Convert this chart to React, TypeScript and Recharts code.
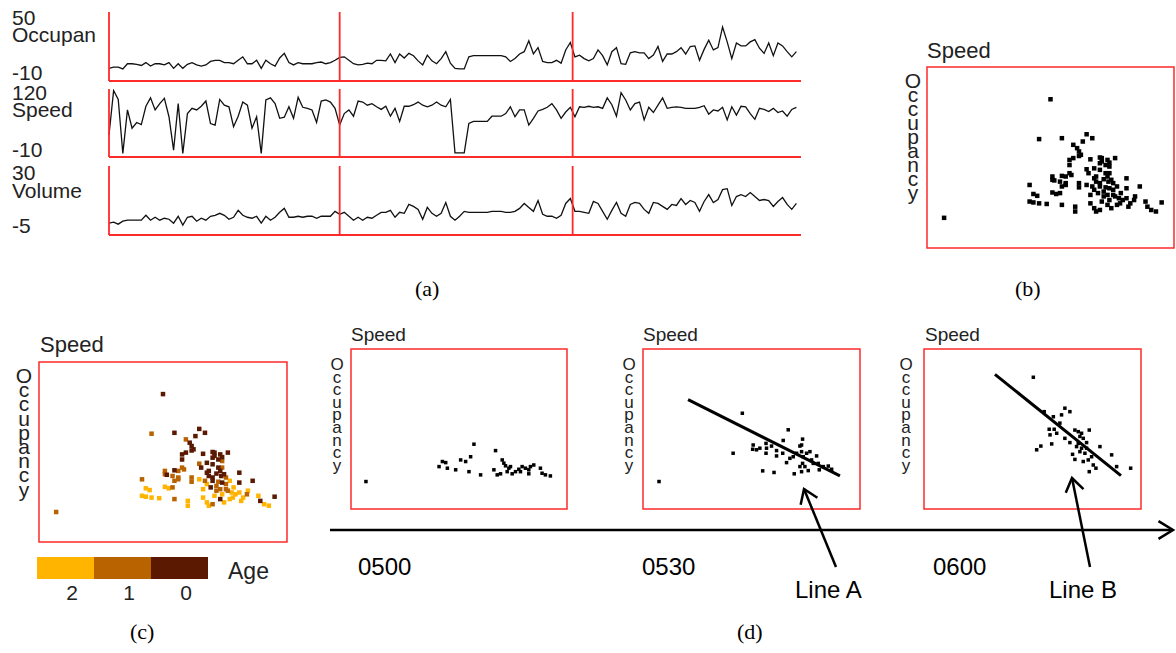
import React from 'react';
import {
  LineChart,
  Line,
  XAxis,
  YAxis,
  ReferenceLine,
  ReferenceArea,
  ScatterChart,
  Scatter,
} from 'recharts';

// (a) time series, one value per minute-ish sample
const occupancy = [
  1, 2, 2, 0.5, 5, 5, 4.5, 3.5, 6, 3, 5, 5, 4, 6, 1, 5, 1, 4.5, 6, 4, 3, 4, 7, 8, 8, 6, 6, 5, 8, 11, 5, 5, 8, 1,
  8, 5, 3, 10, 14, 6, 4, 6, 5, 5, 5, 6, 6.5, 5, 6, 8, 10.5,
  11, 8, 5, 4, 4.5, 5.5, 5, 8, 8, 7.5, 13.5, 6, 13.5, 10, 14, 12, 7.5, 4, 12.5, 7.5, 5, 9.5, 15.5, 5.5, 1, 0.5,
  0.5, 11, 12, 12, 12, 12, 12, 12, 12, 11, 7, 9.5, 13.5, 15.5, 25, 13.5, 19, 7, 6, 6, 8, 5.5, 17, 23.5,
  11, 12.5, 9.5, 7.5, 9.5, 17, 12, 4, 15.5, 19, 5, 4.5, 14.5, 15.5, 14.5, 14.5, 9.5, 12.5, 20, 7, 13.5, 13.5,
  15.5, 19, 13.5, 20, 20.5, 8, 17.5, 25.5, 17, 19, 37, 24, 9.5, 23, 20.5, 20.5, 24, 26, 18.5, 14, 23, 12, 23,
  20.5, 15.5, 11, 15.5,
];
const speed = [
  32, 117, 100, -3, 80, 45, 56, 52, 87, 103, 80, 92, 102, 67, 3, 92, -3, 73, 83, 80, 87, 97, 54, 51, 100, 89, 86,
  48, 68, 95, 89, 45, 67, -3, 99, 103, 92, 64, 66, 86, 64, 104, 85, 83, 80, 56, 97, 99, 95, 83, 51,
  73, 80, 68, 97, 95, 89, 92, 86, 81, 87, 68, 83, 58, 87, 87, 90, 95, 89, 86, 89, 95, 89, 86, 100, -2, -2, -2,
  54, 58, 58, 58, 58, 68, 68, 68, 73, 86, 67, 80, 80, 51, 64, 78, 81, 85, 92, 80, 64, 76, 85,
  67, 86, 85, 87, 85, 86, 83, 103, 90, 68, 113, 99, 80, 92, 95, 61, 85, 75, 89, 103, 83, 85, 86, 85, 83, 83, 83,
  85, 88, 72, 80, 78, 85, 61, 86, 70, 87, 86, 73, 62, 83, 81, 77, 83, 75, 78, 68, 81, 85,
];
const volume = [
  1, 1.5, 0.5, 2, 2.5, 2.5, 2.5, 2.5, 5, 2.5, 4, 2.5, 3.5, 3, 1, 4.5, 0, 4, 4.5, 2, 3.5, 2.5, 4.5, 5, 6, 5, 3, 4,
  7.5, 5, 4, 3.5, 4.5, 1, 4.5, 2.5, 4, 6.5, 8.5, 4, 4, 4.5, 4, 4.5, 4.5, 3.5, 4.5, 4.5, 4.5, 7, 5.5,
  6.5, 4.5, 2.5, 4, 2.5, 4, 3.5, 5, 6.5, 6.5, 7.5, 4, 6.5, 6, 10.5, 9.5, 8, 3, 9, 6, 4.5, 6, 11.5, 4.5, 2.5, 4.5,
  7, 6.5, 6.5, 6.5, 6.5, 6.5, 7, 7, 7, 6.5, 6.5, 7, 8.5, 11, 9, 7, 12.5, 5.5, 4.5, 4.5, 3.5, 5, 11, 13.5,
  7, 7, 6.5, 6, 12, 11, 7, 3, 7.5, 11.5, 6, 4.5, 10.5, 11.5, 11, 8, 6, 11.5, 11, 9.5, 8, 10.5, 10, 13.5, 10.5,
  12.5, 11.5, 7, 12, 15.5, 11.5, 13, 18, 18.5, 10, 14.5, 15.5, 14.5, 16.5, 14.5, 12.5, 13, 12.5, 9.5, 12, 14,
  10.5, 8, 11,
];
const dividers = [50, 100.5];

// (b) and (c): speed vs occupancy, age of each sample for (c)
const scSpeed = [
  -1, 55, 49, 61, 74, 77, 72, 67, 69, 70, 71, 70, 67, 65, 65, 76, 81, 82, 85, 89, 81, 84, 86, 81, 75, 74, 78, 65,
  66, 63, 61, 56, 56, 57, 60, 63, 61, 63, 44, 46, 48, 44, 46, 49, 53, 56, 58, 60, 61, 68, 68, 70, 70, 74, 76, 76,
  78, 79, 81, 78, 79, 81, 83, 85, 86, 87, 88, 81, 84, 86, 88, 90, 95, 95, 92, 91, 89, 86, 85, 87, 83, 82, 85, 93,
  95, 97, 99, 99.5, 102, 105, 106, 108, 110.5, 113.5, 91.6, 90, 96, 80, 83, 88, 85.5, 84, 82, 86, 79, 77, 78,
];
const scOcc = [
  0, 39.3, 26.1, 26.4, 27.7, 26.4, 25.3, 24.2, 23.1, 22, 20.9, 20.5, 19.8, 19.2, 17.5, 19.4, 20, 19.8, 19.2, 19.8,
  18.1, 17.5, 17, 15.9, 14.8, 16.1, 16.4, 14.8, 14.2, 13.7, 13.9, 13.7, 12.6, 12.4, 12, 11.5, 10.4, 10.9, 10.9,
  7.9, 7.3, 5.4, 5.1, 4.8, 4.6, 8.4, 7.9, 8.2, 4.3, 3.7, 2.1, 10.1, 11.5, 10.9, 7.6, 4.8, 3.2, 2.1, 2.6, 13.1, 12,
  11.5, 12.8, 13.7, 14.8, 12.6, 11.5, 10.4, 10.1, 9.8, 9.3, 10.4, 13.1, 9.8, 8.2, 6.5, 7.1, 5.9, 4.3, 3.2, 7.1,
  5.4, 7.6, 5.9, 6.5, 4.8, 5.9, 7.1, 10.4, 5.4, 3.7, 2.6, 2.1, 5.1, 4.8, 4.3, 3.7, 8.2, 8.7, 7.6, 12, 14.8, 18.7,
  18.3, 13.7, 10.4, 9.3,
];
const scAge = [
  1, 0, 1, 0, 0, 0, 0, 1, 0, 0, 0, 0, 0, 0, 0, 0, 0, 0, 0, 0, 0, 0, 1, 0, 0, 1, 0, 1, 1, 1, 0, 1, 1, 0, 1, 1, 1, 1,
  1, 2, 2, 2, 2, 2, 2, 2, 2, 1, 1, 2, 2, 1, 1, 2, 2, 2, 2, 2, 1, 0, 0, 0, 0, 0, 1, 0, 1, 0, 1, 0, 1, 2, 0, 0, 2, 2,
  1, 2, 0, 2, 1, 2, 1, 2, 2, 2, 1, 2, 0, 2, 0, 2, 2, 0, 2, 2, 2, 0, 1, 1, 0, 0, 0, 0, 0, 1, 2,
];

// (d): three half-hour windows
const d1Speed = [-1, 64, 77, 43, 45, 47, 48, 53, 56, 59, 62, 61, 68, 76, 78, 80, 81, 82, 83, 85, 87, 84, 91, 93, 92, 97, 98, 100, 97, 104, 105, 107, 110, 86, 89, 95];
const d1Occ = [0.3, 14.3, 11.9, 5.9, 7.8, 7.4, 5.3, 4.7, 8.4, 7.8, 9.6, 4, 2.8, 4.7, 2.8, 3.2, 8.4, 7.2, 6.2, 5.3, 3.2, 4, 4.9, 5.9, 4, 3.2, 5.9, 6.5, 4.7, 5.3, 3.4, 2.8, 2.4, 5.9, 4, 5.3];
const d2Speed = [-0.4, 49.5, 44, 77, 74, 85.6, 85, 84, 56, 55.7, 58, 60, 63.7, 64, 63.7, 67, 70, 70, 73.7, 76, 78, 80, 82, 85, 86, 88, 90, 91, 94, 95, 85.6, 84, 87, 89, 85, 80.6, 61.7, 68.5, 95.6, 98, 101, 103, 92];
const d2Occ = [0.3, 25.9, 10.9, 19.7, 15.7, 16.2, 14, 13.6, 14, 12.4, 12.2, 12.8, 14.6, 12.8, 10.9, 13.6, 11.9, 9.9, 10.9, 7.4, 9, 9.6, 10.9, 11.5, 9.6, 10.9, 11.5, 8.4, 9.9, 7.1, 7.1, 5.9, 5.9, 4.4, 4, 3.2, 4.3, 3.7, 4.7, 5.9, 6.1, 4.9, 7.1];
const d3Speed = [55.5, 62, 67.5, 74.4, 77.4, 72.4, 71.4, 65, 68, 65.5, 69.5, 57.5, 60, 66.5, 74.4, 77.4, 80.4, 82.4, 84.4, 89, 83.4, 85.4, 81.4, 84.4, 87.4, 86.4, 83.4, 79, 80.4, 85.4, 88.4, 90.4, 91.4, 93, 89, 95.4, 102.4, 105.4, 113.8, 82.4, 87.4];
const d3Occ = [39.4, 26.5, 24.6, 27.8, 26.5, 25.3, 22.2, 19.9, 19.9, 17.8, 18.4, 12.2, 13.6, 14.4, 16.5, 14.9, 19.6, 19, 18.4, 19.6, 17.2, 16.5, 13.4, 12.8, 12.8, 10.9, 11.5, 10.5, 8.6, 7.8, 8.4, 9.6, 6.5, 5.3, 4, 13.4, 10.3, 5.9, 5.3, 14.6, 14.9];
const lineA = [{ x: 17, y: 31 }, { x: 108, y: 2.4 }];
const lineB = [{ x: 32.5, y: 40.5 }, { x: 108, y: 2.5 }];

const ageColors = ['#5a1900', '#b86300', '#ffb400'];
const ageLabels = ['2', '1', '0'];
const timeLabels = ['0500', '0530', '0600'];

const RED = '#ff2a2a';
const SANS = '"Liberation Sans", Arial, sans-serif';
const SERIF = '"Liberation Serif", "Times New Roman", serif';

const series = occupancy.map((v, i) => ({
  t: i,
  occupancy: v,
  speed: speed[i],
  volume: volume[i],
}));

const pts = (xs: number[], ys: number[]) => xs.map((s, i) => ({ speed: s, occ: ys[i] }));
const scatterAll = pts(scSpeed, scOcc);

const square = (size: number, color: string) => (p: any) =>
  <rect x={p.cx - size / 2} y={p.cy - size / 2} width={size} height={size} fill={color} />;

function Strip({ top, height, dataKey, domain }: { top: number; height: number; dataKey: string; domain: number[] }) {
  return (
    <div style={{ position: 'absolute', left: 107, top: top - 2 }}>
      <LineChart width={696} height={height + 4} data={series} margin={{ top: 2, right: 2, bottom: 2, left: 2 }}>
        <XAxis dataKey="t" type="number" domain={[0, 150]} hide />
        <YAxis type="number" domain={domain} hide allowDataOverflow />
        <Line
          dataKey={dataKey}
          stroke="#111"
          strokeWidth={1.3}
          dot={false}
          isAnimationActive={false}
        />
        <ReferenceLine x={0} stroke={RED} strokeWidth={1.8} />
        {dividers.map((d) => (
          <ReferenceLine key={d} x={d} stroke={RED} strokeWidth={1.8} />
        ))}
        <ReferenceLine y={domain[0]} stroke={RED} strokeWidth={1.8} />
      </LineChart>
    </div>
  );
}

interface Group {
  data: { speed: number; occ: number }[];
  color: string;
}

function ScatterBox({ left, top, width, height, groups, size, segment }: {
  left: number; top: number; width: number; height: number; groups: Group[]; size: number;
  segment?: { x: number; y: number }[];
}) {
  return (
    <div style={{ position: 'absolute', left: left - 2, top: top - 2 }}>
      <ScatterChart width={width + 4} height={height + 4} margin={{ top: 2, right: 2, bottom: 2, left: 2 }}>
        <XAxis dataKey="speed" type="number" domain={[-10, 120]} hide />
        <YAxis dataKey="occ" type="number" domain={[-10, 50]} hide />
        <ReferenceArea x1={-10} x2={120} y1={-10} y2={50} fill="none" fillOpacity={0} stroke={RED} strokeWidth={1.5} ifOverflow="visible" />
        {groups.map((g, k) => (
          <Scatter key={k} data={g.data} fill={g.color} shape={square(size, g.color)} isAnimationActive={false} />
        ))}
        {segment && (
          <ReferenceLine segment={segment} stroke="#000" strokeWidth={3} ifOverflow="visible" />
        )}
      </ScatterChart>
    </div>
  );
}

// letters stacked one under the other, tightly, as in the source figure
function VLabel({ x, y, step, size }: { x: number; y: number; step: number; size: number }) {
  return (
    <text fontFamily={SANS} fontSize={size} fill="#222" textAnchor="middle">
      {'Occupancy'.split('').map((c, i) => (
        <tspan key={i} x={x} y={y + i * step}>{c}</tspan>
      ))}
    </text>
  );
}

function head(x1: number, y1: number, x2: number, y2: number, len = 16, ang = 0.6) {
  const a = Math.atan2(y2 - y1, x2 - x1);
  return `${x2 - len * Math.cos(a - ang)},${y2 - len * Math.sin(a - ang)} ${x2},${y2} ${x2 - len * Math.cos(a + ang)},${y2 - len * Math.sin(a + ang)}`;
}

export default function App() {
  const byAge = [2, 1, 0].map((age) => ({
    data: scatterAll.filter((_, i) => scAge[i] === age),
    color: ageColors[age],
  }));

  return (
    <div style={{ position: 'absolute', left: 0, top: 0, width: 1176, height: 653, background: '#fff', fontFamily: SANS }}>
      <Strip top={12} height={69} dataKey="occupancy" domain={[-10, 50]} />
      <Strip top={89} height={68} dataKey="speed" domain={[-10, 120]} />
      <Strip top={166} height={69} dataKey="volume" domain={[-5, 30]} />

      <ScatterBox left={927} top={67} width={247} height={181} size={4.5} groups={[{ data: scatterAll, color: '#000' }]} />
      <ScatterBox left={39} top={362} width={248} height={180} size={4.5} groups={byAge} />

      <ScatterBox left={351} top={349} width={216} height={160} size={3.5} groups={[{ data: pts(d1Speed, d1Occ), color: '#000' }]} />
      <ScatterBox left={643} top={349} width={217} height={160} size={3.5} groups={[{ data: pts(d2Speed, d2Occ), color: '#000' }]} segment={lineA} />
      <ScatterBox left={924} top={349} width={217} height={160} size={3.5} groups={[{ data: pts(d3Speed, d3Occ), color: '#000' }]} segment={lineB} />

      <svg width={1176} height={653} style={{ position: 'absolute', left: 0, top: 0, pointerEvents: 'none' }}>
        <g fontFamily={SANS} fontSize={21} fill="#222">
          <text x={12} y={25}>50</text>
          <text x={12} y={42}>Occupan</text>
          <text x={12} y={80}>-10</text>
          <text x={12} y={100}>120</text>
          <text x={12} y={117}>Speed</text>
          <text x={12} y={157}>-10</text>
          <text x={12} y={180}>30</text>
          <text x={12} y={198}>Volume</text>
          <text x={12} y={233}>-5</text>
        </g>

        <text x={927} y={58} fontFamily={SANS} fontSize={22} fill="#222">Speed</text>
        <VLabel x={913} y={88} step={14} size={21} />
        <text x={40} y={352} fontFamily={SANS} fontSize={22} fill="#222">Speed</text>
        <VLabel x={24} y={383} step={14.2} size={21} />

        {[351, 643, 925].map((x, i) => (
          <g key={i}>
            <text x={x} y={341} fontFamily={SANS} fontSize={19} fill="#222">Speed</text>
            <VLabel x={x - (i === 2 ? 19 : 14)} y={370} step={12.6} size={17} />
          </g>
        ))}

        {ageLabels.map((lab, i) => (
          <g key={lab}>
            <rect x={37 + i * 57} y={557} width={57} height={22} fill={ageColors[2 - i]} />
            <text x={72 + i * 57} y={600} fontFamily={SANS} fontSize={21} fill="#222" textAnchor="middle">{lab}</text>
          </g>
        ))}
        <text x={228} y={579} fontFamily={SANS} fontSize={23} fill="#222">Age</text>

        <line x1={330} y1={530} x2={1172} y2={530} stroke="#000" strokeWidth={2.5} />
        <polyline points={head(330, 530, 1173, 530, 17, 0.55)} fill="none" stroke="#000" strokeWidth={2.5} />
        {timeLabels.map((t, i) => (
          <text key={t} x={[358, 642, 933][i]} y={575} fontFamily={SANS} fontSize={24} fill="#000">{t}</text>
        ))}

        <line x1={836} y1={567} x2={804} y2={489} stroke="#000" strokeWidth={2.5} />
        <polyline points={head(836, 567, 804, 489)} fill="none" stroke="#000" strokeWidth={2.5} />
        <text x={795} y={598} fontFamily={SANS} fontSize={24} fill="#000">Line A</text>
        <line x1={1090} y1={567} x2={1072} y2={478} stroke="#000" strokeWidth={2.5} />
        <polyline points={head(1090, 567, 1072, 478)} fill="none" stroke="#000" strokeWidth={2.5} />
        <text x={1049} y={598} fontFamily={SANS} fontSize={24} fill="#000">Line B</text>

        <g fontFamily={SERIF} fontSize={22} fill="#000">
          <text x={415} y={296}>(a)</text>
          <text x={1015} y={296}>(b)</text>
          <text x={130} y={639}>(c)</text>
          <text x={737} y={639}>(d)</text>
        </g>
      </svg>
    </div>
  );
}
